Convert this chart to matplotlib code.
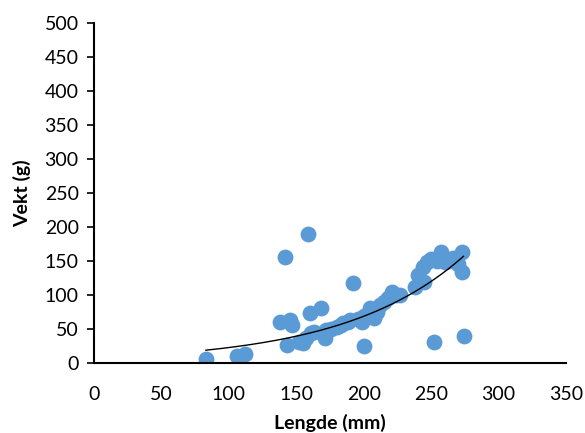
import numpy as np
import matplotlib
matplotlib.use('Agg')
import matplotlib.pyplot as plt

# Fish length (mm) vs weight (g)
lengde = [83, 106, 112, 138, 142, 143, 145, 147, 152, 155, 157, 159, 160, 161,
          163, 168, 171, 172, 176, 180, 183, 185, 188, 190, 192, 196, 199, 200,
          200, 203, 205, 208, 210, 212, 215, 218, 221, 224, 227, 238, 240, 244,
          245, 247, 250, 252, 254, 257, 260, 263, 266, 270, 273, 273, 274]
vekt = [5, 10, 13, 60, 155, 26, 63, 55, 30, 29, 37, 190, 73, 43,
        45, 80, 36, 48, 50, 52, 55, 58, 60, 63, 118, 65, 60, 25,
        68, 72, 80, 66, 75, 85, 90, 95, 104, 100, 100, 112, 129, 141,
        119, 148, 152, 30, 150, 163, 148, 150, 154, 145, 163, 133, 39]

x_ticks = [0, 50, 100, 150, 200, 250, 300, 350]
y_ticks = [0, 50, 100, 150, 200, 250, 300, 350, 400, 450, 500]

plt.rcParams['font.family'] = ['Lato', 'DejaVu Sans']

fig = plt.figure(figsize=(5.85, 4.33), dpi=100)
ax = fig.add_axes([0.1607, 0.1624, 0.8068, 0.7845])

ax.scatter(lengde, vekt, s=130, color='#5B9BD5', zorder=2, linewidths=0)

# Exponential trendline (like Excel's)
x = np.array(lengde, dtype=float)
y = np.array(vekt, dtype=float)
b, ln_a = np.polyfit(x, np.log(y), 1)
xs = np.linspace(x.min(), x.max(), 200)
ax.plot(xs, np.exp(ln_a) * np.exp(b * xs), color='black', lw=1, zorder=3)

ax.set_xlim(0, 350)
ax.set_ylim(0, 500)
ax.set_xticks(x_ticks)
ax.set_yticks(y_ticks)
ax.tick_params(axis='x', length=0, labelsize=14, pad=17)
ax.tick_params(axis='y', length=5, width=1.2, labelsize=14, direction='out', pad=6)
ax.spines['top'].set_visible(False)
ax.spines['right'].set_visible(False)
ax.spines['left'].set_linewidth(1.5)
ax.spines['bottom'].set_linewidth(1.5)
ax.set_xlabel('Lengde (mm)', fontsize=14, fontweight='bold', labelpad=8)
ax.set_ylabel('Vekt (g)', fontsize=14, fontweight='bold', labelpad=10)

fig.savefig('out.png', dpi=100)
